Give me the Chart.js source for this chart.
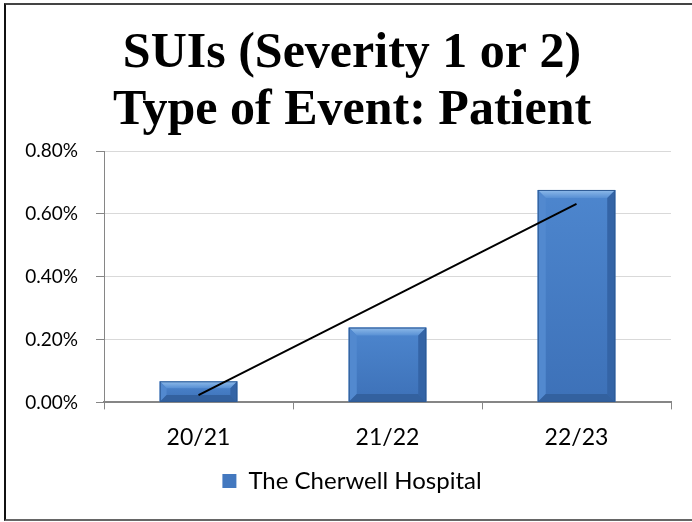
<!DOCTYPE html>
<html>
<head>
<meta charset="utf-8">
<script src="https://cdn.jsdelivr.net/npm/chart.js@4.4.1/dist/chart.umd.min.js"></script>
<style>
  html, body { margin: 0; padding: 0; background: #fff; }
  #wrap { position: relative; width: 692px; height: 522px; overflow: hidden; }
  #frame {
    position: absolute; left: 4px; top: 3px; width: 710px; height: 514px;
    border-top: 2px solid #444; border-left: 2px solid #111; border-bottom: 2px solid #666;
    pointer-events: none;
  }
  canvas { position: absolute; left: 0; top: 0; }
</style>
</head>
<body>
<div id="wrap">
  <canvas id="myChart" width="692" height="522"></canvas>
  <div id="frame"></div>
</div>
<script>
// values, in percent
const years = ['20/21', '21/22', '22/23'];
const cherwell = [0.067, 0.238, 0.676];
const trend = [0.023, 0.327, 0.632];
const yTicks = [0, 0.2, 0.4, 0.6, 0.8];

// excel style bevel on top of each bar
const bevel = {
  id: 'bevel',
  afterDatasetDraw(chart, args) {
    if (args.index !== 0) return;
    const ctx = chart.ctx;
    args.meta.data.forEach(bar => {
      const l = bar.x - bar.width / 2, r = bar.x + bar.width / 2;
      const t = bar.y, b = bar.base;
      const s = Math.min(8, (b - t) / 3);
      const body = ctx.createLinearGradient(0, t, 0, b);
      body.addColorStop(0, '#4d86ce');
      body.addColorStop(1, '#3d71b8');
      ctx.save();
      ctx.fillStyle = body;
      ctx.fillRect(l, t, r - l, b - t);
      const quad = (pts, fill) => {
        ctx.beginPath();
        ctx.moveTo(pts[0][0], pts[0][1]);
        pts.slice(1).forEach(p => ctx.lineTo(p[0], p[1]));
        ctx.closePath();
        ctx.fillStyle = fill;
        ctx.fill();
      };
      const topG = ctx.createLinearGradient(0, t, 0, t + s);
      topG.addColorStop(0, '#8fbbea');
      topG.addColorStop(1, '#5890d4');
      quad([[l, t], [r, t], [r - s, t + s], [l + s, t + s]], topG);
      quad([[l, t], [l + s, t + s], [l + s, b - s], [l, b]], '#5289cf');
      quad([[r, t], [r - s, t + s], [r - s, b - s], [r, b]], '#3464a6');
      quad([[l, b], [l + s, b - s], [r - s, b - s], [r, b]], '#33619f');
      ctx.strokeStyle = '#2e5a94';
      ctx.lineWidth = 1;
      ctx.strokeRect(l + 0.5, t + 0.5, r - l - 1, b - t - 1);
      ctx.restore();
    });
  }
};

const ctx = document.getElementById('myChart').getContext('2d');
Chart.defaults.color = '#000';
Chart.defaults.font.family = 'Lato';

new Chart(ctx, {
  type: 'bar',
  data: {
    labels: years,
    datasets: [{
      type: 'bar',
      label: 'The Cherwell Hospital',
      data: cherwell,
      backgroundColor: '#4378bf',
      borderWidth: 0,
      categoryPercentage: 1,
      barPercentage: 0.41,
      order: 1
    }, {
      type: 'line',
      label: 'trend',
      data: trend,
      borderColor: '#000',
      borderWidth: 2,
      pointRadius: 0,
      fill: false,
      order: 0
    }]
  },
  options: {
    responsive: false,
    animation: false,
    events: [],
    layout: { padding: { left: 12, right: 0, top: 0, bottom: 19 } },
    scales: {
      x: {
        grid: { drawOnChartArea: false, color: '#868686', tickLength: 7 },
        border: { color: '#868686', width: 2 },
        ticks: { font: { size: 23 }, padding: 14 }
      },
      y: {
        min: 0,
        max: 0.8,
        afterBuildTicks: s => { s.ticks = yTicks.map(v => ({ value: v })); },
        afterFit: s => { s.width = 92; },
        grid: { color: '#d9d9d9', tickColor: '#868686', tickLength: 8 },
        border: { color: '#868686', width: 1 },
        ticks: {
          font: { size: 19 },
          padding: 18,
          callback: v => v.toFixed(2) + '%'
        }
      },
      // empty right gutter so the title centres like the original
      gutter: {
        position: 'right',
        grid: { display: false },
        border: { display: false },
        ticks: { display: false },
        afterFit: s => { s.width = 21; }
      }
    },
    plugins: {
      title: {
        display: true,
        text: ['SUIs (Severity 1 or 2)', 'Type of Event: Patient'],
        font: { family: 'Liberation Serif', size: 50, weight: 'bold', lineHeight: 1.14 },
        padding: { top: 26, bottom: 11 }
      },
      legend: {
        position: 'bottom',
        labels: {
          boxWidth: 14,
          boxHeight: 14,
          padding: 4,
          font: { size: 24 },
          filter: item => item.datasetIndex === 0
        }
      },
      tooltip: { enabled: false }
    }
  },
  plugins: [bevel]
});
</script>
</body>
</html>
